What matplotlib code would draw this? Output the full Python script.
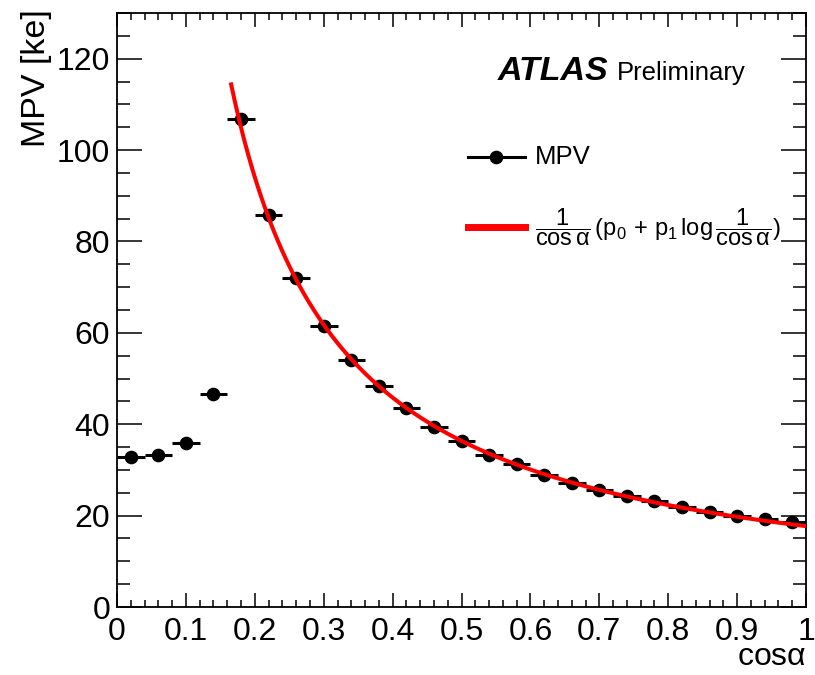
import numpy as np
import matplotlib
matplotlib.use("Agg")
import matplotlib.pyplot as plt
from matplotlib.lines import Line2D
from matplotlib.ticker import MultipleLocator

plt.rcParams['font.family'] = ['Liberation Sans', 'DejaVu Sans']
plt.rcParams['mathtext.fontset'] = 'custom'
plt.rcParams['mathtext.rm'] = 'Liberation Sans'
plt.rcParams['mathtext.it'] = 'Liberation Sans'
plt.rcParams['mathtext.bf'] = 'Liberation Sans:bold'

# data
cos_alpha = [0.02, 0.06, 0.10, 0.14, 0.18, 0.22, 0.26, 0.30, 0.34, 0.38, 0.42, 0.46, 0.50,
             0.54, 0.58, 0.62, 0.66, 0.70, 0.74, 0.78, 0.82, 0.86, 0.90, 0.94, 0.98]
mpv = [32.9, 33.3, 35.9, 46.6, 106.7, 85.8, 71.9, 61.6, 54.0, 48.4, 43.6, 39.4, 36.4,
       33.3, 31.2, 29.0, 27.2, 25.7, 24.4, 23.1, 22.0, 20.9, 20.0, 19.2, 18.5]
bin_half_width = 0.02
# fit parameters
p0 = 17.7
p1 = 0.69
fit_range = (0.165, 1.0)

fig = plt.figure(figsize=(8.15, 6.75), dpi=100)
ax = fig.add_axes([0.1436, 0.1007, 0.989 - 0.1436, 0.9807 - 0.1007])

xf = np.linspace(fit_range[0], fit_range[1], 400)
yf = (p0 + p1 * np.log(1.0 / xf)) / xf
ax.plot(xf, yf, color='#ff0000', lw=2.9, zorder=3, solid_capstyle='butt')

ax.errorbar(cos_alpha, mpv, xerr=bin_half_width, fmt='o', color='black',
            markersize=8.8, elinewidth=2.2, capsize=0, zorder=2)

ax.set_xlim(0, 1)
ax.set_ylim(0, 130)
ax.xaxis.set_major_locator(MultipleLocator(0.1))
ax.xaxis.set_minor_locator(MultipleLocator(0.02))
ax.yaxis.set_major_locator(MultipleLocator(20))
ax.yaxis.set_minor_locator(MultipleLocator(5))
ax.set_xticks(np.arange(0, 1.01, 0.1))
ax.set_xticklabels(['0', '0.1', '0.2', '0.3', '0.4', '0.5', '0.6', '0.7', '0.8', '0.9', '1'])

ax.tick_params(axis='both', which='both', direction='in', top=True, right=True,
               labelsize=23, width=1.1)
ax.tick_params(axis='y', which='major', length=18, pad=5)
ax.tick_params(axis='y', which='minor', length=9.5)
ax.tick_params(axis='x', which='major', length=10, pad=7)
ax.tick_params(axis='x', which='minor', length=5)
for s in ax.spines.values():
    s.set_linewidth(1.3)

fig.text(0.989, 0.004, r'cos$\alpha$', ha='right', va='bottom', fontsize=23)
fig.text(0.045, 0.987, 'MPV [ke]', rotation=90, ha='center', va='top', fontsize=24.5)

ax.text(0.552, 0.887, 'ATLAS', transform=ax.transAxes, fontsize=24.5,
        fontweight='bold', fontstyle='italic', ha='left', va='baseline')
ax.text(0.725, 0.887, 'Preliminary', transform=ax.transAxes, fontsize=18.5,
        ha='left', va='baseline')

# legend
ax.add_line(Line2D([0.509, 0.592], [0.758, 0.758], transform=ax.transAxes,
                   color='black', lw=2.2))
ax.add_line(Line2D([0.5505], [0.758], transform=ax.transAxes, marker='o',
                   color='black', markersize=8.8))
ax.text(0.607, 0.758, 'MPV', transform=ax.transAxes, fontsize=18.5, ha='left', va='center')
ax.add_line(Line2D([0.509, 0.592], [0.640, 0.640], transform=ax.transAxes,
                   color='#ff0000', lw=5))
ax.text(0.607, 0.640, r'$\dfrac{1}{\cos\alpha}\,(\mathrm{p}_0\, +\, \mathrm{p}_1\,\log\dfrac{1}{\cos\alpha})$',
        transform=ax.transAxes, fontsize=17, ha='left', va='center')

fig.savefig('out.png', dpi=100)
